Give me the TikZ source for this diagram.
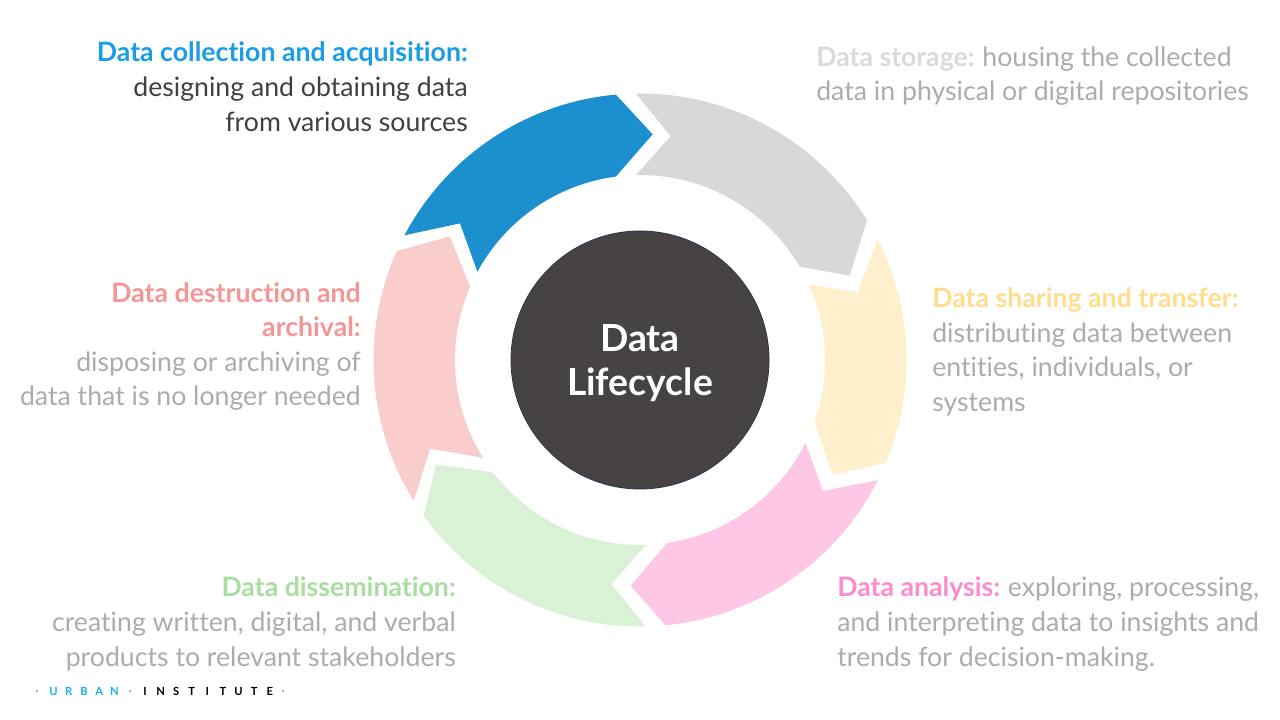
\documentclass[tikz,border=0pt]{standalone}
\usepackage{fontspec}
\setmainfont{Lato}[Ligatures=NoCommon]
\definecolor{segBlue}{RGB}{28,143,207}
\definecolor{segGrey}{RGB}{217,215,216}
\definecolor{segYellow}{RGB}{255,239,204}
\definecolor{segMagenta}{RGB}{255,199,230}
\definecolor{segGreen}{RGB}{217,241,213}
\definecolor{segPink}{RGB}{249,205,204}
\definecolor{coreFill}{RGB}{71,67,68}
\definecolor{coreEdge}{RGB}{40,55,75}
\definecolor{tBlue}{RGB}{24,157,230}
\definecolor{tDark}{RGB}{64,64,64}
\definecolor{tGrey}{RGB}{175,171,172}
\definecolor{tStore}{RGB}{218,218,218}
\definecolor{tYellow}{RGB}{255,221,140}
\definecolor{tMagenta}{RGB}{255,139,205}
\definecolor{tGreen}{RGB}{170,221,160}
\definecolor{tPink}{RGB}{245,150,150}
\definecolor{logoBlue}{RGB}{22,175,236}
\definecolor{logoDot}{RGB}{170,170,170}
\tikzset{
  bodytext/.style={inner sep=0pt, font=\fontsize{20}{26}\selectfont},
  lineE/.style={bodytext, anchor=base east},
  lineW/.style={bodytext, anchor=base west},
  titletext/.style={font=\fontsize{20}{26}\selectfont\bfseries},
  coretext/.style={inner sep=0pt, anchor=base, text=white, font=\fontsize{28}{33}\selectfont\bfseries},
  logoletter/.style={inner sep=0pt, font=\fontsize{8.4}{9}\selectfont\bfseries},
}
\begin{document}
\begin{tikzpicture}[x=0.75pt,y=0.75pt]
\useasboundingbox (0,0) rectangle (1280,720);
\fill[white] (0,0) rectangle (1280,720);
% ring of arrows
\begin{scope}[shift={(640,360)}]
\fill[segBlue] (152.1:266.5) arc[start angle=152.1,end angle=95.2,radius=266.5] -- (86.8:226) -- (97.5:185) arc[start angle=97.5,end angle=151.5,radius=185] -- (142.8:226) -- cycle;
\fill[segGrey] (90.9:266.5) arc[start angle=90.9,end angle=31.6,radius=266.5] -- (21.9:226) -- (30.3:185) arc[start angle=30.3,end angle=91.2,radius=185] -- (82.2:226) -- cycle;
\fill[segYellow] (26.9:266.5) arc[start angle=26.9,end angle=-22.7,radius=266.5] -- (-30.8:224) -- (-19.4:185) arc[start angle=-19.4,end angle=24.1,radius=185] -- (17.3:228) -- cycle;
\fill[segMagenta] (-26.8:266.5) arc[start angle=-26.8,end angle=-84.5,radius=266.5] -- (-92.4:226) -- (-81.6:185) arc[start angle=-81.6,end angle=-26.6,radius=185] -- (-35.6:225) -- cycle;
\fill[segGreen] (-88.8:266.5) arc[start angle=-88.8,end angle=-144.3,radius=266.5] -- (-152.9:229) -- (-142.5:185) arc[start angle=-142.5,end angle=-88.2,radius=185] -- (-97.3:226) -- cycle;
\fill[segPink] (-148.1:266.5) arc[start angle=-148.1,end angle=-204.1,radius=266.5] -- (-213:227) -- (-203.3:185) arc[start angle=-203.3,end angle=-148.1,radius=185] -- (-157.1:228) -- cycle;
\end{scope}
% core
\node[circle, fill=coreFill, draw=coreEdge, line width=0.6pt, minimum size=193.5pt, inner sep=0pt] (core) at (640,360) {};
\node[coretext] (coreA) at (640,368) {Data};
\node[coretext] (coreB) at (640,324) {Lifecycle};
% block 1: collection
\node[lineE, text=tBlue, titletext] (c1) at (468,658) {Data collection and acquisition:};
\node[lineE, text=tDark] (c2) at (468,623) {designing and obtaining data};
\node[lineE, text=tDark] (c3) at (468,588) {from various sources};
% block 2: storage
\node[lineW, text=tGrey] (s1) at (816,653) {\textcolor{tStore}{\bfseries Data storage:}\hspace{-1pt} housing the collected};
\node[lineW, text=tGrey] (s2) at (816,619) {data in physical or digital repositories};
% block 3: sharing
\node[lineW, text=tYellow, titletext] (h1) at (932,412) {Data sharing and transfer:};
\node[lineW, text=tGrey] (h2) at (932,377) {distributing data between};
\node[lineW, text=tGrey] (h3) at (932,343) {entities, individuals, or};
\node[lineW, text=tGrey] (h4) at (932,308) {systems};
% block 4: analysis
\node[lineW, text=tGrey] (a1) at (837,123) {\textcolor{tMagenta}{\bfseries Data analysis:}\hspace{-1pt} exploring, processing,};
\node[lineW, text=tGrey] (a2) at (837,88) {and interpreting data to insights and};
\node[lineW, text=tGrey] (a3) at (837,53) {trends for decision-making.};
% block 5: dissemination
\node[lineE, text=tGreen, titletext] (d1) at (456,123) {Data dissemination:};
\node[lineE, text=tGrey] (d2) at (456,88) {creating written, digital, and verbal};
\node[lineE, text=tGrey] (d3) at (456,53) {products to relevant stakeholders};
% block 6: destruction
\node[lineE, text=tPink, titletext] (x1) at (361,417) {Data destruction and};
\node[lineE, text=tPink, titletext] (x2) at (361,383) {archival:};
\node[lineE, text=tGrey] (x3) at (361,348) {disposing or archiving of};
\node[lineE, text=tGrey] (x4) at (361,314) {data that is no longer needed};
% logo
\fill[logoDot] (36.7,29) circle[radius=1.4];
\fill[logoDot] (130,29) circle[radius=1.4];
\fill[logoDot] (283,29) circle[radius=1.4];
\foreach \l [count=\i from 0] in {U,R,B,A,N}
  \node[logoletter, text=logoBlue] (u\i) at ({53.5+15.25*\i},29) {\l};
\foreach \l [count=\i from 0] in {I,N,S,T,I,T,U,T,E}
  \node[logoletter, text=black] (n\i) at ({145+15.6*\i},29) {\l};
\end{tikzpicture}
\end{document}
